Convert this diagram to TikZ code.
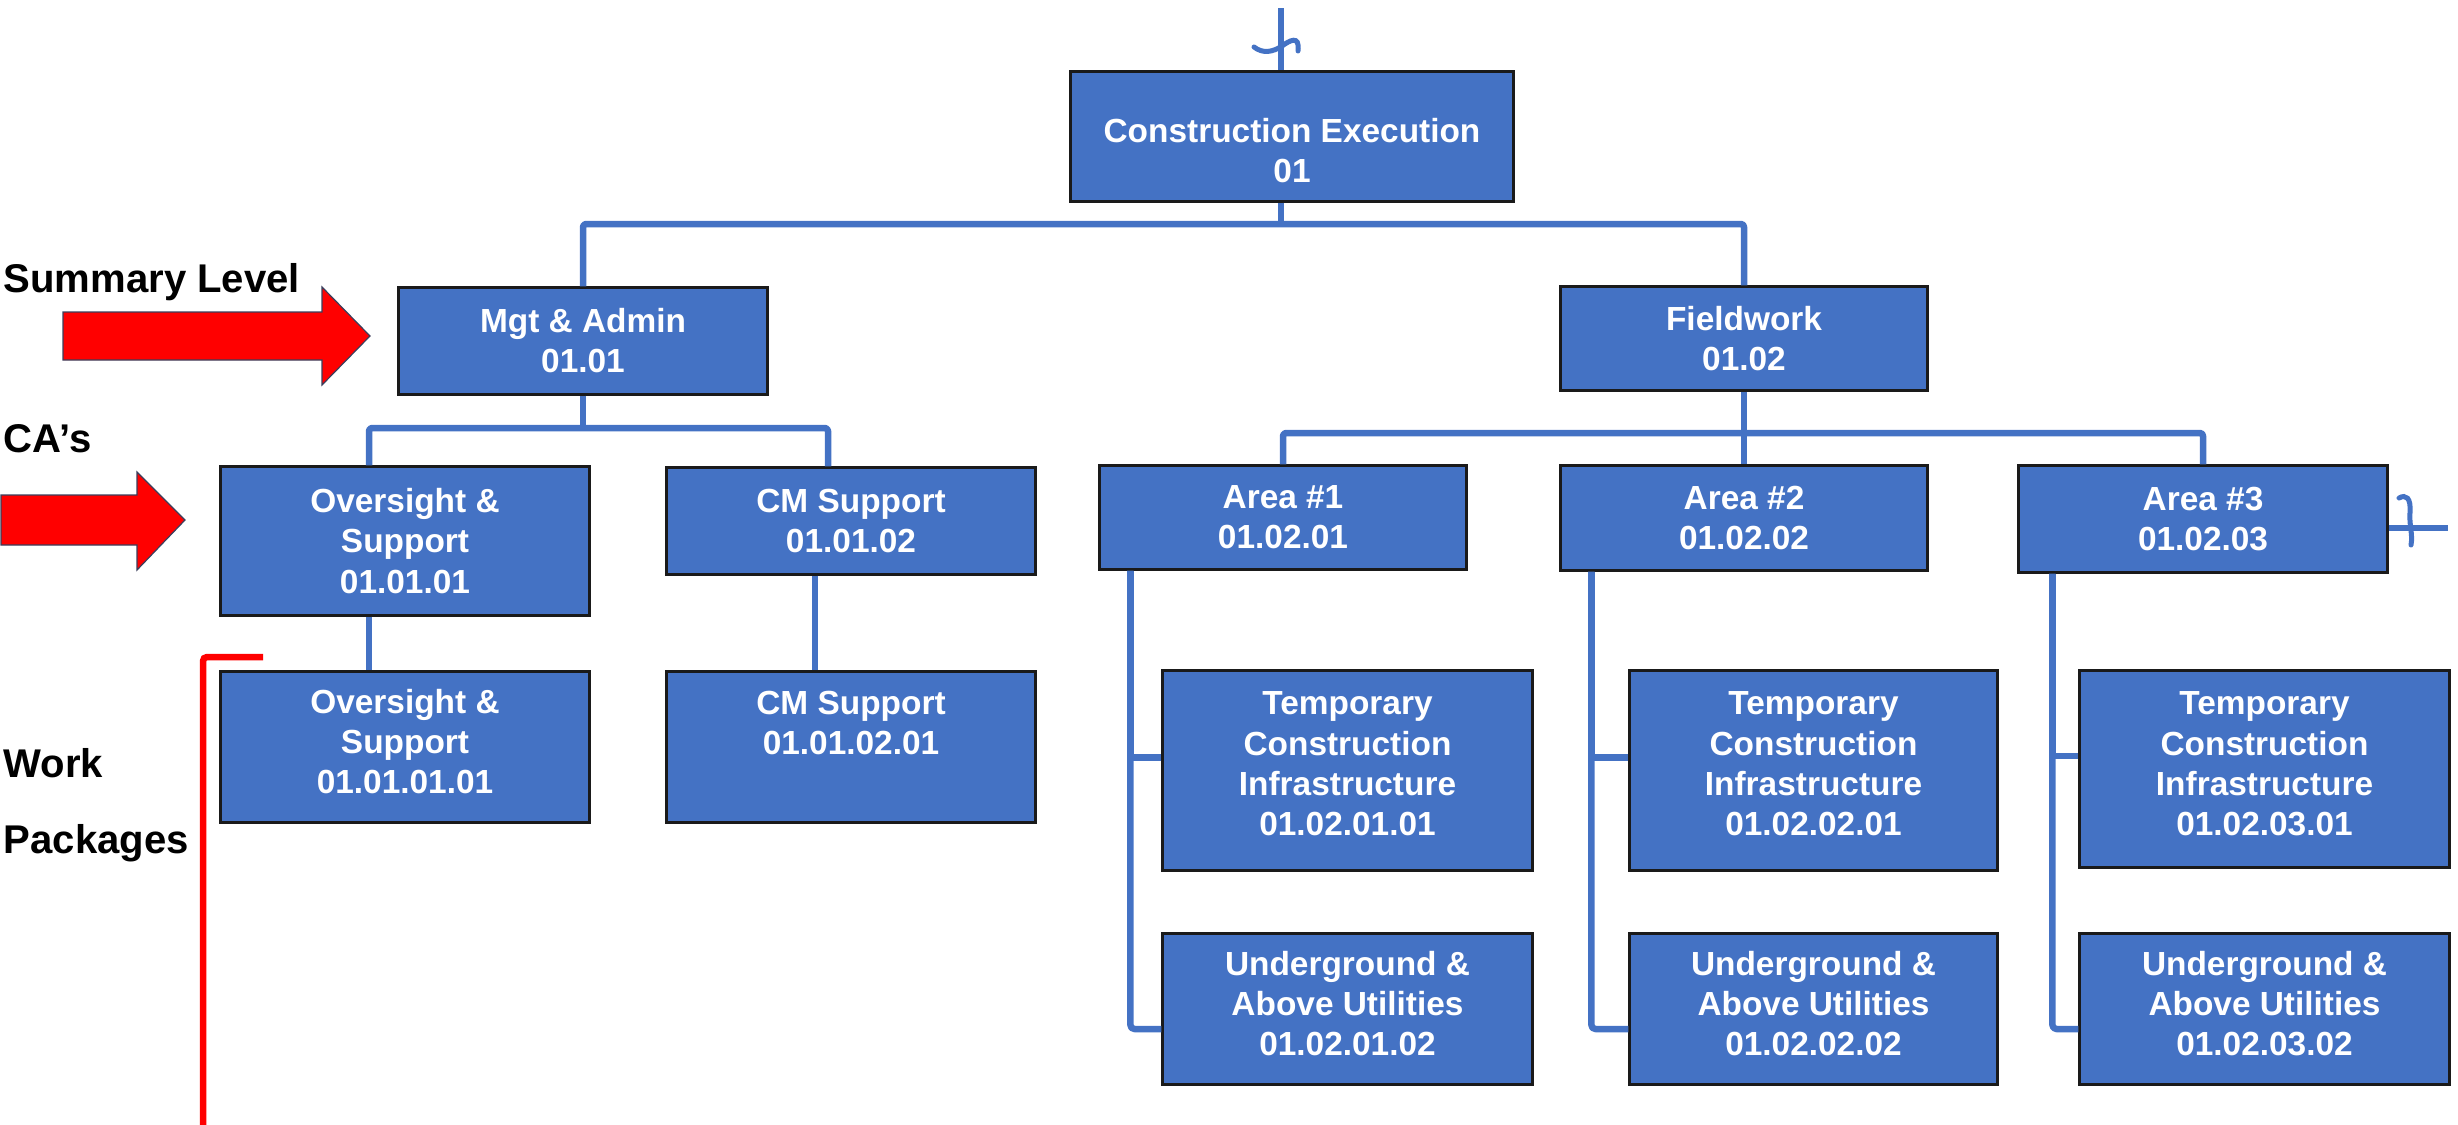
\documentclass[tikz,border=0pt]{standalone}
\usepackage{fontspec}
\setmainfont{Liberation Sans}
\usetikzlibrary{calc}
\newdimen\wbspx \wbspx=0.01cm
\definecolor{wbsblue}{HTML}{4472C4}
\definecolor{edgeline}{HTML}{1A1A1A}
\definecolor{arrowred}{HTML}{FF0000}
\definecolor{arrowedge}{HTML}{3A3F5C}
\newcommand{\wbsboxfont}{\fontsize{9.5pt}{11.4pt}\selectfont\bfseries}
\newcommand{\wbslvlfont}{\fontsize{11.4pt}{13.7pt}\selectfont\bfseries}
% width, height, top padding, text (all in px)
\newcommand{\toptext}[4]{\parbox[c][#2\wbspx][t]{#1\wbspx}{\centering\vspace*{#3\wbspx}#4\par}}
\tikzset{
  wbsbox/.style={draw=edgeline, line width=0.03cm, fill=wbsblue, text=white,
    font=\wbsboxfont, align=center, inner sep=0pt},
  conn/.style={draw=wbsblue, line width=0.065cm, line join=round},
  lvl/.style={font=\wbslvlfont, anchor=base west, inner sep=0pt, text=black},
  bigarrow/.style={fill=arrowred, draw=arrowedge, line width=0.012cm, line join=miter},
  bracket/.style={draw=arrowred, line width=0.065cm, rounded corners=0.04cm},
  brk/.style={draw=wbsblue, line width=0.05cm, line cap=round},
}
\begin{document}
\begin{tikzpicture}[x=0.01cm, y=-0.01cm]
\useasboundingbox (0,0) rectangle (2458,1124);

% ---------- boxes ----------
\node[wbsbox, minimum width=4.42cm, minimum height=1.29cm] (ce) at (1292,136.5)
  {\toptext{420}{129}{46}{Construction Execution\\01}};
\node[wbsbox, minimum width=3.68cm, minimum height=1.06cm] (mgt) at (583,341) {Mgt \& Admin\\01.01};
\node[wbsbox, minimum width=3.66cm, minimum height=1.03cm] (fw) at (1744,338.5) {Fieldwork\\01.02};

\node[wbsbox, minimum width=3.68cm, minimum height=1.48cm] (ov) at (405,541) {Oversight \&\\Support\\01.01.01};
\node[wbsbox, minimum width=3.68cm, minimum height=1.06cm] (cm) at (851,521) {CM Support\\01.01.02};
\node[wbsbox, minimum width=3.66cm, minimum height=1.03cm] (a1) at (1283,517.5) {Area \#1\\01.02.01};
\node[wbsbox, minimum width=3.66cm, minimum height=1.04cm] (a2) at (1744,518) {Area \#2\\01.02.02};
\node[wbsbox, minimum width=3.68cm, minimum height=1.06cm] (a3) at (2203,519) {Area \#3\\01.02.03};

\node[wbsbox, minimum width=3.68cm, minimum height=1.50cm] (ovwp) at (405,747)
  {\toptext{340}{150}{17}{Oversight \&\\Support\\01.01.01.01}};
\node[wbsbox, minimum width=3.68cm, minimum height=1.50cm] (cmwp) at (851,747)
  {\toptext{340}{150}{19}{CM Support\\01.01.02.01}};

\node[wbsbox, minimum width=3.69cm, minimum height=1.99cm] (t1) at (1347.5,770.5)
  {\toptext{340}{199}{21}{Temporary\\Construction\\Infrastructure\\01.02.01.01}};
\node[wbsbox, minimum width=3.69cm, minimum height=1.50cm] (u1) at (1347.5,1009)
  {\toptext{340}{150}{17}{Underground \&\\Above Utilities\\01.02.01.02}};
\node[wbsbox, minimum width=3.67cm, minimum height=1.99cm] (t2) at (1813.5,770.5)
  {\toptext{340}{199}{21}{Temporary\\Construction\\Infrastructure\\01.02.02.01}};
\node[wbsbox, minimum width=3.67cm, minimum height=1.50cm] (u2) at (1813.5,1009)
  {\toptext{340}{150}{17}{Underground \&\\Above Utilities\\01.02.02.02}};
\node[wbsbox, minimum width=3.69cm, minimum height=1.96cm] (t3) at (2264.5,769)
  {\toptext{340}{196}{21}{Temporary\\Construction\\Infrastructure\\01.02.03.01}};
\node[wbsbox, minimum width=3.69cm, minimum height=1.50cm] (u3) at (2264.5,1009)
  {\toptext{340}{150}{17}{Underground \&\\Above Utilities\\01.02.03.02}};

% ---------- connectors ----------
\coordinate (topend) at (1281,8);
\coordinate (bus1) at (1281,224);
\coordinate (bus2) at (0,428);
\coordinate (bus3) at (0,433);
\coordinate (rbreak) at (2448,528);

\draw[conn] (topend) -- (topend |- ce.north);
\draw[conn] (bus1 |- ce.south) -- (bus1);
\draw[conn, rounded corners=0.03cm] (mgt.north) |- (bus1) -| (fw.north);

\draw[conn] (mgt.south) -- (mgt.south |- bus2);
\draw[conn, rounded corners=0.03cm] ($(ov.north)+(-36,0)$) |- (bus2 -| mgt.south) -| ($(cm.north)+(-23,0)$);
\draw[conn] ($(ov.south)+(-36,0)$) -- ($(ovwp.north)+(-36,0)$);
\draw[conn] ($(cm.south)+(-36,0)$) -- ($(cmwp.north)+(-36,0)$);

\draw[conn] (fw.south) -- (a2.north);
\draw[conn, rounded corners=0.03cm] (a1.north) |- (bus3 -| fw.south) -| (a3.north);

\draw[conn, rounded corners=0.04cm] ($(a1.south west)+(32,0)$) |- ($(u1.west)+(0,20)$);
\draw[conn] ($(t1.west)+(0,-13)$) -| ($(a1.south west)+(32,0)$);
\draw[conn, rounded corners=0.04cm] ($(a2.south west)+(32,0)$) |- ($(u2.west)+(0,20)$);
\draw[conn] ($(t2.west)+(0,-13)$) -| ($(a2.south west)+(32,0)$);
\draw[conn, rounded corners=0.04cm] ($(a3.south west)+(35,0)$) |- ($(u3.west)+(0,20)$);
\draw[conn] ($(t3.west)+(0,-13)$) -| ($(a3.south west)+(35,0)$);

\draw[conn] ($(a3.east)+(0,9)$) -- (rbreak);

% break marks
\draw[brk] (1254,47) .. controls (1263,54) and (1273,52) .. (1282,46)
           .. controls (1289,41) and (1300,34) .. (1298,51);
\draw[brk] (2399,498) .. controls (2406,494) and (2411,498) .. (2410,512)
           .. controls (2409,526) and (2413,534) .. (2411,545);

% ---------- level labels ----------
\node[lvl] (lsum) at (3,292) {Summary Level};
\node[lvl] (lca) at (3,452) {CA’s};
\node[lvl] (lwork) at (3,777) {Work};
\node[lvl] (lpack) at (3,853) {Packages};

% ---------- red arrows ----------
\draw[bigarrow] (63,312) -- (322,312) -- (322,287) -- (370,336) -- (322,385) -- (322,360) -- (63,360) -- cycle;
\draw[bigarrow] (1,495) -- (137,495) -- (137,472) -- (185,520) -- (137,570) -- (137,545) -- (1,545) -- cycle;

% ---------- red bracket ----------
\draw[bracket] (263,657) -- (203,657) -- (203,1135);
\end{tikzpicture}
\end{document}
